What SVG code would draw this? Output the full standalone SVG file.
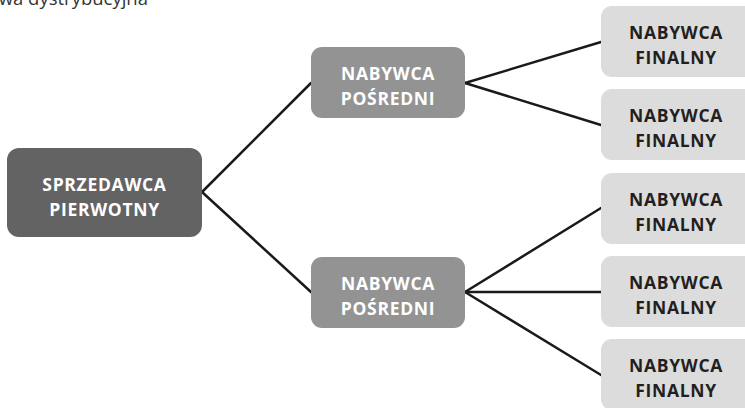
<svg xmlns="http://www.w3.org/2000/svg" width="745" height="408" viewBox="0 0 745 408">
<style>
.root{fill:#636363}
.mid{fill:#939393}
.fin{fill:#dcdcdc}
.tw{font-family:"Open Sans","Liberation Sans",sans-serif;font-weight:bold;font-size:17.5px;letter-spacing:0.7px;fill:#ffffff;text-anchor:middle}
.td{font-family:"Open Sans","Liberation Sans",sans-serif;font-weight:bold;font-size:17.5px;letter-spacing:0.7px;fill:#231f20;text-anchor:middle}
.title{font-family:"Open Sans","Liberation Sans",sans-serif;font-size:18.5px;fill:#333333;text-anchor:end}
.conn line{stroke:#1a1a1a;stroke-width:2.5;stroke-linecap:round}
</style>
<rect width="745" height="408" fill="#ffffff"/>
<text class="title" x="148" y="5">wa dystrybucyjna</text>
<g class="conn" id="connectors">
<line x1="202" y1="192" x2="311" y2="83"/>
<line x1="202" y1="192" x2="311" y2="292"/>
<line x1="465" y1="83" x2="601" y2="42"/>
<line x1="465" y1="83" x2="601" y2="125"/>
<line x1="465" y1="292" x2="601" y2="208"/>
<line x1="465" y1="292" x2="601" y2="292"/>
<line x1="465" y1="292" x2="601" y2="375"/>
</g>
<g id="root">
<rect class="root" x="7" y="148" width="195" height="89" rx="12"/>
<text class="tw" x="104.5" y="191">SPRZEDAWCA</text>
<text class="tw" x="104.5" y="216">PIERWOTNY</text>
</g>
<g id="mid1">
<rect class="mid" x="311" y="47" width="154" height="71" rx="11"/>
<text class="tw" x="388" y="80">NABYWCA</text>
<text class="tw" x="388" y="105">POŚREDNI</text>
</g>
<g id="mid2">
<rect class="mid" x="311" y="257" width="154" height="71" rx="11"/>
<text class="tw" x="388" y="290">NABYWCA</text>
<text class="tw" x="388" y="315">POŚREDNI</text>
</g>
<g id="fin1">
<rect class="fin" x="601" y="6" width="160" height="71" rx="11"/>
<text class="td" x="676" y="39">NABYWCA</text>
<text class="td" x="676" y="64">FINALNY</text>
</g>
<g id="fin2">
<rect class="fin" x="601" y="89" width="160" height="71" rx="11"/>
<text class="td" x="676" y="122">NABYWCA</text>
<text class="td" x="676" y="147">FINALNY</text>
</g>
<g id="fin3">
<rect class="fin" x="601" y="173" width="160" height="71" rx="11"/>
<text class="td" x="676" y="206">NABYWCA</text>
<text class="td" x="676" y="231">FINALNY</text>
</g>
<g id="fin4">
<rect class="fin" x="601" y="256" width="160" height="71" rx="11"/>
<text class="td" x="676" y="289">NABYWCA</text>
<text class="td" x="676" y="314">FINALNY</text>
</g>
<g id="fin5">
<rect class="fin" x="601" y="339" width="160" height="71" rx="11"/>
<text class="td" x="676" y="372">NABYWCA</text>
<text class="td" x="676" y="397">FINALNY</text>
</g>
</svg>
